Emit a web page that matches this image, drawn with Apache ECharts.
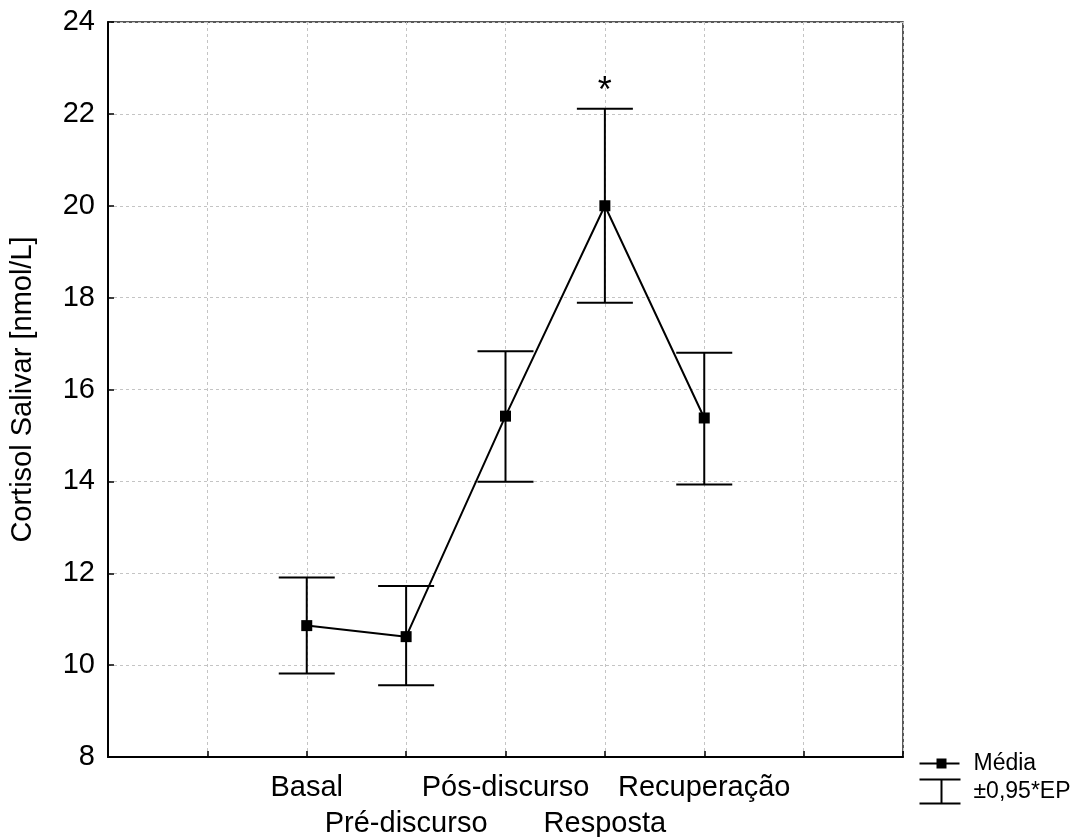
<!DOCTYPE html>
<html>
<head>
<meta charset="utf-8">
<script src="https://cdn.jsdelivr.net/npm/echarts@6/dist/echarts.min.js"></script>
<style>
html,body{margin:0;padding:0;background:#fff;}
#chart{width:1076px;height:837px;}
</style>
</head>
<body>
<div id="chart"></div>
<script>
// ---- data ----
const categories = ['Basal', 'Pré-discurso', 'Pós-discurso', 'Resposta', 'Recuperação'];
const meanValues = [10.86, 10.62, 15.42, 20.0, 15.38];
const upperValues = [11.91, 11.72, 16.83, 22.11, 16.80];
const lowerValues = [9.82, 9.56, 13.99, 17.89, 13.93];
const annotations = ['', '', '', '*', ''];
const yTicks = [8, 10, 12, 14, 16, 18, 20, 22, 24];
const yAxisTitle = 'Cortisol Salivar [nmol/L]';
const legendMean = 'Média';
const legendErr = '±0,95*EP';

const xOffset = 2; // categories sit at x = 2..6 on a 0..8 axis
const FONT = '"Liberation Sans", Arial, Helvetica, sans-serif';

const lineData = meanValues.map((v, i) => [i + xOffset, v]);
const errData = meanValues.map((v, i) => [i + xOffset, lowerValues[i], upperValues[i], annotations[i]]);

const chart = echarts.init(document.getElementById('chart'), null, {renderer: 'canvas'});

const option = {
  backgroundColor: '#fff',
  animation: false,
  grid: {
    left: 108, top: 22, right: 173, bottom: 80,
    containLabel: false, outerBoundsMode: 'none',
    show: true, borderColor: '#222', borderWidth: 1.5, backgroundColor: 'transparent'
  },
  xAxis: {
    type: 'value', min: 0, max: 8, interval: 1,
    axisLine: {show: true, onZero: false, lineStyle: {color: '#000', width: 2}},
    axisTick: {show: true, inside: true, length: 6, lineStyle: {color: '#000', width: 1.5}},
    splitLine: {show: true, lineStyle: {color: '#c4c4c4', width: 1, type: [3, 3]}},
    axisLabel: {
      show: true, margin: 13, color: '#000', fontFamily: FONT, fontSize: 29,
      lineHeight: 36, verticalAlign: 'top',
      showMinLabel: true, showMaxLabel: true,
      formatter: function (val) {
        const i = Math.round(val) - xOffset;
        if (i < 0 || i >= categories.length) return '';
        return (i % 2 === 1 ? '\n' : '') + categories[i];
      }
    }
  },
  yAxis: {
    type: 'value', min: 8, max: 24, interval: 2,
    name: yAxisTitle, nameLocation: 'middle', nameGap: 71,
    nameTextStyle: {color: '#000', fontFamily: FONT, fontSize: 29},
    axisLine: {show: true, lineStyle: {color: '#000', width: 2}},
    axisTick: {show: true, inside: true, length: 6, lineStyle: {color: '#000', width: 1.5}},
    splitLine: {show: true, lineStyle: {color: '#c4c4c4', width: 1, type: [3, 3]}},
    axisLabel: {
      margin: 13, color: '#000', fontFamily: FONT, fontSize: 29,
      formatter: function (v) { return yTicks.indexOf(v) >= 0 ? String(v) : ''; }
    }
  },
  series: [
    {
      name: legendErr,
      type: 'custom',
      z: 3,
      data: errData,
      renderItem: function (params, api) {
        const x = api.value(0);
        const lo = api.coord([x, api.value(1)]);
        const hi = api.coord([x, api.value(2)]);
        const hw = 28;
        const style = {stroke: '#000', lineWidth: 2, fill: null};
        const children = [
          {type: 'line', shape: {x1: hi[0], y1: hi[1], x2: lo[0], y2: lo[1]}, style: style},
          {type: 'line', shape: {x1: hi[0] - hw, y1: hi[1], x2: hi[0] + hw, y2: hi[1]}, style: style},
          {type: 'line', shape: {x1: lo[0] - hw, y1: lo[1], x2: lo[0] + hw, y2: lo[1]}, style: style}
        ];
        const note = api.value(3);
        if (note) {
          children.push({
            type: 'text',
            style: {
              text: note, x: hi[0], y: hi[1] + 1, fill: '#000',
              font: '36px ' + FONT, textAlign: 'center', textVerticalAlign: 'bottom'
            }
          });
        }
        return {type: 'group', children: children};
      }
    },
    {
      name: legendMean,
      type: 'line',
      z: 4,
      data: lineData,
      symbol: 'rect',
      symbolSize: 11,
      itemStyle: {color: '#000'},
      lineStyle: {color: '#000', width: 2}
    }
  ],
  graphic: [
    {
      type: 'group', left: 917, top: 752,
      children: [
        {type: 'line', shape: {x1: 0, y1: 11, x2: 40, y2: 11}, style: {stroke: '#000', lineWidth: 2}},
        {type: 'rect', shape: {x: 17, y: 6, width: 10, height: 10}, style: {fill: '#000'}},
        {type: 'text', style: {text: legendMean, x: 54, y: 11, font: '23px ' + FONT, fill: '#000', textVerticalAlign: 'middle'}},
        {type: 'line', shape: {x1: 0, y1: 27, x2: 41, y2: 27}, style: {stroke: '#000', lineWidth: 2}},
        {type: 'line', shape: {x1: 22, y1: 27, x2: 22, y2: 51}, style: {stroke: '#000', lineWidth: 2}},
        {type: 'line', shape: {x1: 0, y1: 51, x2: 41, y2: 51}, style: {stroke: '#000', lineWidth: 2}},
        {type: 'text', style: {text: legendErr, x: 54, y: 39, font: '23px ' + FONT, fill: '#000', textVerticalAlign: 'middle'}}
      ]
    }
  ]
};

chart.setOption(option);
</script>
</body>
</html>
